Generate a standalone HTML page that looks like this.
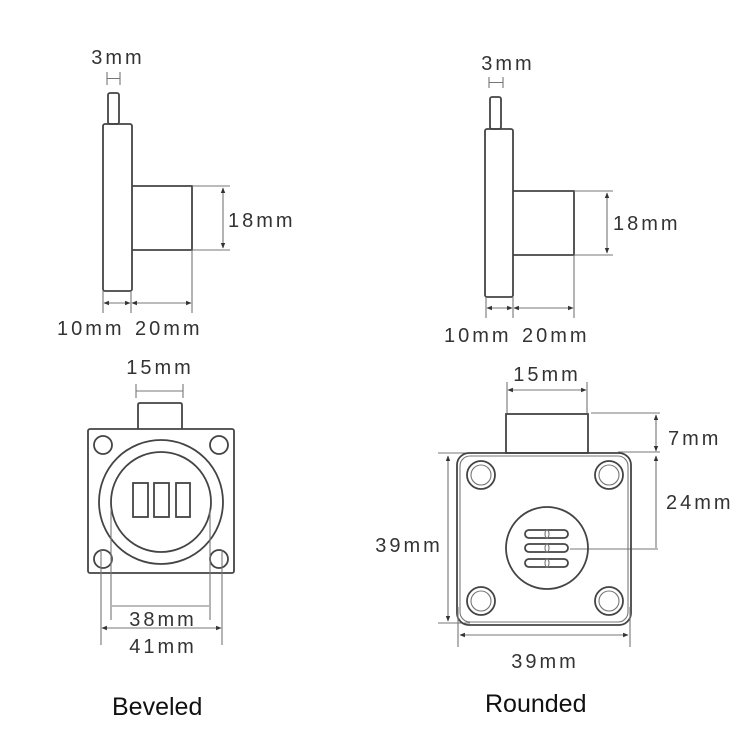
<!DOCTYPE html>
<html><head><meta charset="utf-8"><style>
html,body{margin:0;padding:0;background:#fff}
svg{display:block}
.t{font-family:"Liberation Sans",sans-serif;font-size:20px;fill:#333;letter-spacing:3px}
.l{font-family:"Liberation Sans",sans-serif;font-size:25px;fill:#111}
.s{fill:none;stroke:#444;stroke-width:1.8}
.d{fill:none;stroke:#777;stroke-width:1.1}
</style></head><body>
<svg width="750" height="750" viewBox="0 0 750 750" xmlns="http://www.w3.org/2000/svg">
<defs>
<marker id="a" viewBox="0 0 10 10" refX="9" refY="5" markerWidth="5" markerHeight="5" orient="auto-start-reverse"><path d="M0,1 L10,5 L0,9 z" fill="#333"/></marker>
</defs>

<!-- LEFT SIDE VIEW -->
<text class="t" x="118" y="64" text-anchor="middle">3mm</text>
<path class="d" d="M107,72 V85 M120,72 V85 M107,78.5 H120"/>
<rect class="s" x="108" y="93" width="11" height="31" rx="2"/>
<rect class="s" x="103" y="124" width="29" height="167" rx="2"/>
<path class="s" d="M132,186 H192 V250 H132"/>
<path class="d" d="M192,186 H230 M192,250 H230 M192,250 V313 M103,291 V313 M131,291 V313"/>
<line class="d" x1="223" y1="188" x2="223" y2="248" marker-start="url(#a)" marker-end="url(#a)"/>
<text class="t" x="228" y="227">18mm</text>
<line class="d" x1="104" y1="303" x2="130" y2="303" marker-start="url(#a)" marker-end="url(#a)"/>
<line class="d" x1="132" y1="303" x2="191" y2="303" marker-start="url(#a)" marker-end="url(#a)"/>
<text class="t" x="57" y="335">10mm</text>
<text class="t" x="135" y="335">20mm</text>

<!-- RIGHT SIDE VIEW -->
<text class="t" x="508" y="70" text-anchor="middle">3mm</text>
<path class="d" d="M489,77 V88 M503,77 V88 M489,82.5 H503"/>
<rect class="s" x="490" y="97" width="11" height="32" rx="2"/>
<rect class="s" x="485" y="129" width="28" height="168" rx="2"/>
<path class="s" d="M513,191 H574 V255 H513"/>
<path class="d" d="M574,191 H613 M574,255 H613 M574,255 V318 M486,297 V318 M513,297 V318"/>
<line class="d" x1="607" y1="193" x2="607" y2="253" marker-start="url(#a)" marker-end="url(#a)"/>
<text class="t" x="613" y="230">18mm</text>
<line class="d" x1="487" y1="308" x2="512" y2="308" marker-start="url(#a)" marker-end="url(#a)"/>
<line class="d" x1="514" y1="308" x2="573" y2="308" marker-start="url(#a)" marker-end="url(#a)"/>
<text class="t" x="444" y="342">10mm</text>
<text class="t" x="522" y="342">20mm</text>

<!-- BEVELED FRONT -->
<text class="t" x="160" y="374" text-anchor="middle">15mm</text>
<path class="d" d="M136,384 V398 M183,384 V398 M136,391 H183"/>
<path class="s" d="M138,429 V405 Q138,403 140,403 H180 Q182,403 182,405 V429"/>
<rect class="s" x="88" y="429" width="146" height="144" rx="2"/>
<circle class="s" cx="103" cy="445" r="9"/>
<circle class="s" cx="219" cy="445" r="9"/>
<circle class="s" cx="103" cy="559" r="9"/>
<circle class="s" cx="219" cy="559" r="9"/>
<circle class="s" cx="161" cy="502" r="62"/>
<circle class="s" cx="161" cy="502" r="50"/>
<rect class="s" x="133" y="483" width="15" height="34"/>
<rect class="s" x="154" y="483" width="15" height="34"/>
<rect class="s" x="176" y="483" width="14" height="34"/>
<path class="d" d="M111,510 V620 M210,510 V620 M101,550 V645 M222,550 V645"/>
<line class="d" x1="112" y1="606" x2="209" y2="606"/>
<line class="d" x1="102" y1="628" x2="221" y2="628" marker-start="url(#a)" marker-end="url(#a)"/>
<text class="t" x="163" y="626" text-anchor="middle">38mm</text>
<text class="t" x="163" y="653" text-anchor="middle">41mm</text>

<!-- ROUNDED FRONT -->
<text class="t" x="547" y="381" text-anchor="middle">15mm</text>
<path class="d" d="M507,382 V413 M587,382 V413"/>
<line class="d" x1="508" y1="390" x2="586" y2="390" marker-start="url(#a)" marker-end="url(#a)"/>
<rect class="s" x="506" y="414" width="82" height="39"/>
<path class="d" d="M591,413 H660 M618,452 H660 M438,453 H470 M438,623 H470"/>
<line class="d" x1="656" y1="415" x2="656" y2="451" marker-start="url(#a)" marker-end="url(#a)"/>
<text class="t" x="668" y="445">7mm</text>
<line class="d" x1="656" y1="456" x2="656" y2="548" marker-start="url(#a)"/>
<path class="d" d="M570,549 H658"/>
<text class="t" x="666" y="509">24mm</text>
<rect class="s" x="457" y="453" width="174" height="172" rx="12"/>
<rect class="d" x="460" y="456" width="168" height="166" rx="10"/>
<g>
<circle class="s" cx="481" cy="475" r="14"/><circle class="d" cx="481" cy="475" r="10"/>
<circle class="s" cx="609" cy="475" r="14"/><circle class="d" cx="609" cy="475" r="10"/>
<circle class="s" cx="481" cy="601" r="14"/><circle class="d" cx="481" cy="601" r="10"/>
<circle class="s" cx="609" cy="601" r="14"/><circle class="d" cx="609" cy="601" r="10"/>
</g>
<circle class="s" cx="547" cy="548" r="41"/>
<rect class="s" x="525" y="530" width="43" height="8" rx="4"/>
<rect class="s" x="525" y="544" width="43" height="8" rx="4"/>
<rect class="s" x="525" y="559" width="43" height="8" rx="4"/>
<ellipse class="d" cx="547" cy="534" rx="2" ry="4"/>
<ellipse class="d" cx="547" cy="548" rx="2" ry="4"/>
<ellipse class="d" cx="547" cy="563" rx="2" ry="4"/>
<line class="d" x1="448" y1="456" x2="448" y2="621" marker-start="url(#a)" marker-end="url(#a)"/>
<text class="t" x="409" y="552" text-anchor="middle">39mm</text>
<path class="d" d="M458,607 V647 M630,607 V647"/>
<line class="d" x1="460" y1="635" x2="628" y2="635" marker-start="url(#a)" marker-end="url(#a)"/>
<text class="t" x="545" y="668" text-anchor="middle">39mm</text>

<text class="l" x="112" y="715">Beveled</text>
<text class="l" x="485" y="712">Rounded</text>
</svg>
</body></html>
